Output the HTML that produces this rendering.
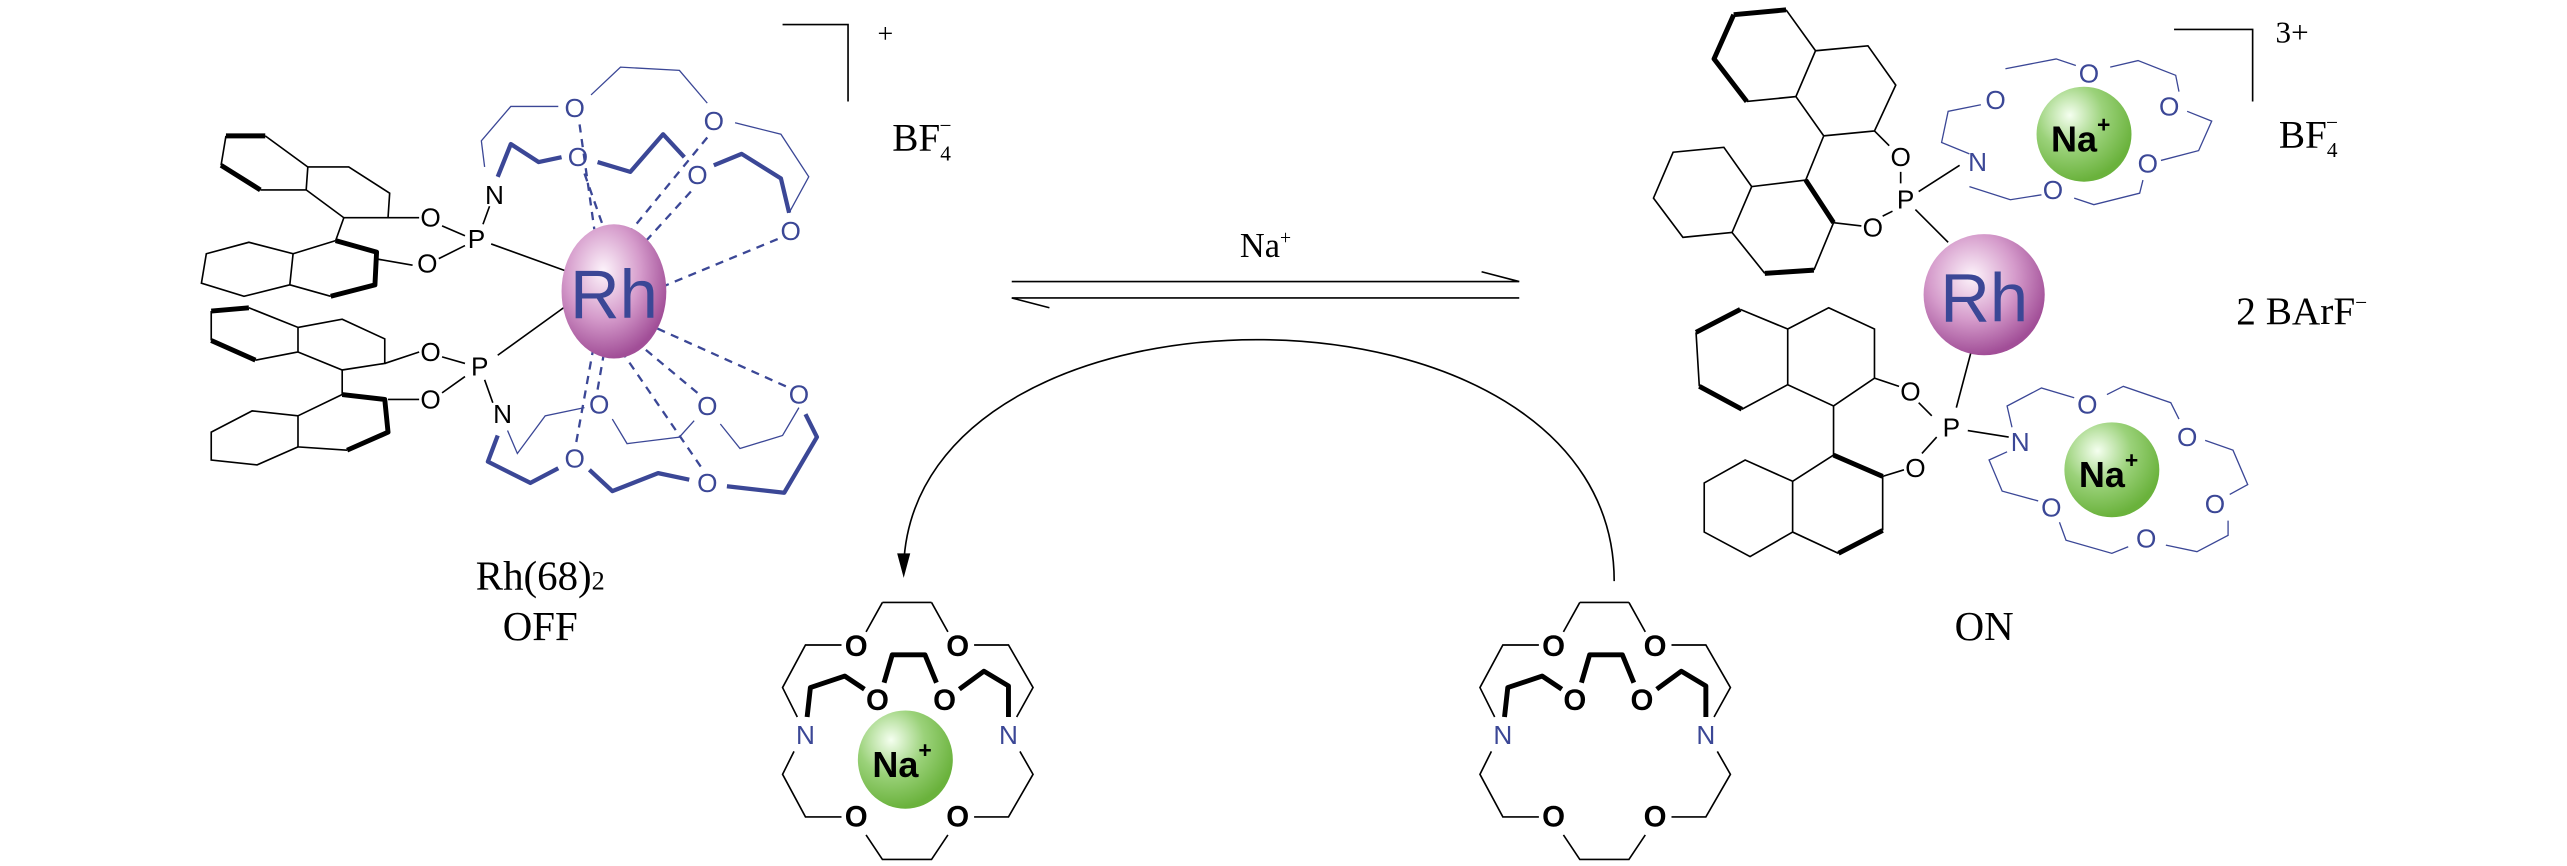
<!DOCTYPE html>
<html><head><meta charset="utf-8"><style>
html,body{margin:0;padding:0;background:#fff;}
svg{display:block}
.t{stroke:#000;stroke-width:1;fill:none}
.k{stroke:#000;stroke-width:3;fill:none;stroke-linejoin:round}
.b{stroke:#3b4796;stroke-width:0.8;fill:none}
.bk{stroke:#3b4796;stroke-width:2.6;fill:none;stroke-linejoin:round}
.d{stroke:#3b4796;stroke-width:1.4;fill:none;stroke-dasharray:5,4}
.ob{font-family:"Liberation Sans",sans-serif;font-size:16px;fill:#3b4796;text-anchor:middle;dominant-baseline:central}
.o{font-family:"Liberation Sans",sans-serif;font-size:16px;fill:#000;text-anchor:middle;dominant-baseline:central}
.ok{font-family:"Liberation Sans",sans-serif;font-size:18px;font-weight:bold;fill:#000;text-anchor:middle;dominant-baseline:central}
.s{font-family:"Liberation Serif",serif;fill:#000}
</style></head><body>
<svg width="2567" height="866" viewBox="0 0 1568 529" xmlns="http://www.w3.org/2000/svg">
<defs>
<radialGradient id="pg" cx="0.4" cy="0.35" r="0.65"><stop offset="0" stop-color="#fdf4fb"/><stop offset="0.55" stop-color="#d59bcb"/><stop offset="1" stop-color="#a14e97"/></radialGradient>
<radialGradient id="gg" cx="0.35" cy="0.3" r="0.7"><stop offset="0" stop-color="#f5fff0"/><stop offset="0.5" stop-color="#9bd27a"/><stop offset="1" stop-color="#6ab23c"/></radialGradient>
</defs>

<path class="t" d="M478 15H518V62"/>
<text class="s" x="536" y="26" font-size="17">+</text>
<text class="s" x="545" y="92" font-size="24">BF<tspan font-size="13" dy="6">4</tspan><tspan font-size="13" dx="-7" dy="-17">−</tspan></text>

<path class="t" d="M162 83L188 102L187 116L159 116M188 102L213 102L238 118L237 133L210 133L187 116"/>
<path class="k" d="M138 83L162 83M135 101L159 116"/>
<path class="t" d="M138 83L135 101"/>
<path class="t" d="M210 133L205 147"/>
<path class="t" d="M123 173L126 155L152 148L179 155L177 174L149 181Z M179 155L205 147M202 181L177 174"/>
<path class="k" d="M205 147L230 154L229 174L202 181"/>
<path class="t" d="M237 133L256 133M229 158L252 162M270 138L284 144M268 158L284 150M300 149L347 166M295 137L299 126"/>
<text class="o" x="263" y="133">O</text><text class="o" x="261" y="161">O</text>
<text class="o" x="291" y="146" font-size="17">P</text><text class="o" x="302" y="119">N</text>

<path class="t" d="M152 188L182 200L182 215L156 220M182 200L209 195L235 207L235 222L209 226L182 215"/>
<path class="k" d="M129 190L152 188M129 208L156 220"/>
<path class="t" d="M129 190L129 208M209 226L209 241"/>
<path class="t" d="M209 241L235 244M182 254L209 241M182 254L182 273L212 275"/>
<path class="k" d="M209 241L235 244L237 264L212 275"/>
<path class="t" d="M182 254L154 251L129 264L129 281L157 284L182 273"/>
<path class="t" d="M235 222L256 215M237 244L256 244M270 218L284 222M270 240L284 230M304 217L347 186M296 232L301 246"/>
<text class="o" x="263" y="215">O</text><text class="o" x="263" y="244">O</text>
<text class="o" x="293" y="224" font-size="17">P</text><text class="o" x="307" y="253">N</text>

<path class="b" d="M296 102L294 86L312 65L341 65M361 58L379 41L415 43L432 63M449 75L477 82L494 108L482 130"/>
<path class="bk" d="M304 108L312 88L329 99L343 96M365 99L385 105L405 82L418 96M436 101L453 94L477 109L482 130"/>
<text class="ob" x="351" y="66">O</text><text class="ob" x="353" y="96">O</text>
<text class="ob" x="436" y="74">O</text><text class="ob" x="426" y="107">O</text><text class="ob" x="483" y="141">O</text>
<path class="b" d="M310 263L316 277L333 254L357 249M374 256L383 271L415 267L424 257M440 259L452 274L478 266L488 249"/>
<path class="bk" d="M304 266L298 282L324 295L341 286M360 287L374 300L402 289L421 293M444 297L479 301L499 267L492 253"/>
<text class="ob" x="366" y="247">O</text><text class="ob" x="432" y="248">O</text><text class="ob" x="488" y="241">O</text>
<text class="ob" x="351" y="280">O</text><text class="ob" x="432" y="295">O</text>
<path class="d" d="M354 76L363 140M357 106L369 140M432 84L382 145M422 117L392 150M475 146L405 175M365 238L369 215M352 270L362 215M426 240L390 210M428 285L380 215M480 236L400 200"/>
<ellipse cx="375" cy="178" rx="32" ry="41" fill="url(#pg)"/>
<text x="375" y="180" font-family="Liberation Sans,sans-serif" font-size="42" fill="#3b4796" text-anchor="middle" dominant-baseline="central">Rh</text>

<text class="s" x="330" y="360" font-size="25" text-anchor="middle">Rh(68)<tspan font-size="16">2</tspan></text>
<text class="s" x="330" y="391" font-size="25" text-anchor="middle">OFF</text>

<path class="t" d="M618 172H928L905 166M928 182H618L641 188" stroke-width="1.3"/>
<text class="s" x="773" y="157" font-size="21" text-anchor="middle">Na<tspan font-size="12" dy="-8">+</tspan></text>
<path class="t" d="M986 355C986 160 560 160 552 345"/>
<polygon points="552,353 548,338 556,338" fill="#000"/>

<g id="crownL">
<path class="t" d="M539 368L569 368M539 368L529 386M569 368L579 386M514 394L492 394L478 420L487 438M595 394L616 394L631 420L621 438M485 459L478 473L492 499L514 499M623 459L631 473L616 499L595 499M529 510L539 525L569 525L579 510" stroke-width="1.1"/>
<path class="k" d="M493 438L495 420L516 413L528 421M540 417L545 400L565 400L572 417M586 421L601 410L616 419L616 438"/>
<text class="ok" x="523" y="395">O</text><text class="ok" x="585" y="395">O</text>
<text class="ok" x="536" y="428">O</text><text class="ok" x="577" y="428">O</text>
<text class="ok" x="523" y="499">O</text><text class="ok" x="585" y="499">O</text>
<text class="ob" x="492" y="449" font-size="19">N</text><text class="ob" x="616" y="449" font-size="19">N</text>
</g>
<ellipse cx="553" cy="464" rx="29" ry="30" fill="url(#gg)"/>
<text x="551" y="467" font-family="Liberation Sans,sans-serif" font-size="22" font-weight="bold" text-anchor="middle" dominant-baseline="central">Na<tspan font-size="14" dy="-9">+</tspan></text>
<use href="#crownL" x="426"/>

<path class="t" d="M1328 18H1376V62"/>
<text class="s" x="1390" y="26" font-size="19" font-family="Liberation Sans,sans-serif">3+</text>
<text class="s" x="1392" y="90" font-size="24">BF<tspan font-size="13" dy="6">4</tspan><tspan font-size="13" dx="-7" dy="-17">−</tspan></text>
<text class="s" x="1366" y="198" font-size="24">2 BArF<tspan font-size="13" dy="-9">−</tspan></text>

<path class="k" d="M1059 9L1091 6M1059 9L1047 36L1067 62"/>
<path class="t" d="M1091 6L1109 31L1097 59L1067 62M1109 31L1141 28L1158 52L1145 80L1114 83L1097 59M1114 83L1103 110"/>
<path class="t" d="M1103 110L1070 114L1058 142L1078 167M1108 165L1120 136"/>
<path class="k" d="M1103 110L1120 136M1078 167L1108 165"/>
<path class="t" d="M1070 114L1053 90L1022 93L1010 121L1028 145L1058 142"/>
<path class="t" d="M1145 80L1154 89M1120 136L1137 138M1161 105L1161 112M1150 132L1156 129M1172 117L1197 101M1170 128L1190 148"/>
<text class="o" x="1161" y="96">O</text><text class="o" x="1144" y="139">O</text>
<text class="o" x="1164" y="122" font-size="17">P</text><text class="ob" x="1208" y="99">N</text>
<path class="b" d="M1203 94L1186 87L1190 68L1210 64M1225 42L1256 36L1268 40M1289 41L1306 37L1329 46L1331 56M1336 68L1351 74L1343 92L1320 98M1309 110L1307 118L1279 125L1267 121M1247 119L1228 122L1203 114"/>
<text class="ob" x="1219" y="61">O</text><text class="ob" x="1276" y="45">O</text><text class="ob" x="1325" y="65">O</text>
<text class="ob" x="1312" y="100">O</text><text class="ob" x="1254" y="116">O</text>
<ellipse cx="1273" cy="82" rx="29" ry="29" fill="url(#gg)"/>
<text x="1271" y="85" font-family="Liberation Sans,sans-serif" font-size="22" font-weight="bold" text-anchor="middle" dominant-baseline="central">Na<tspan font-size="14" dy="-9">+</tspan></text>

<path class="t" d="M1204 215L1195 249"/>
<ellipse cx="1212" cy="180" rx="37" ry="37" fill="url(#pg)"/>
<text x="1212" y="182" font-family="Liberation Sans,sans-serif" font-size="42" fill="#3b4796" text-anchor="middle" dominant-baseline="central">Rh</text>

<path class="t" d="M1117 188L1145 201L1145 231L1120 248L1092 235L1092 201Z"/>
<path class="t" d="M1092 201L1063 189M1036 203L1038 236M1064 250L1092 235"/>
<path class="k" d="M1063 189L1036 203M1038 236L1064 250"/>
<path class="t" d="M1120 248L1120 278"/>
<path class="k" d="M1120 278L1150 291M1150 324L1123 338"/>
<path class="t" d="M1150 291L1150 324M1123 338L1095 325L1095 294L1120 278M1095 294L1066 281L1041 295L1041 325L1069 340L1095 325"/>
<path class="t" d="M1145 231L1160 236M1150 291L1163 287M1172 246L1180 254M1174 277L1183 267M1202 263L1227 267"/>
<text class="o" x="1167" y="239">O</text><text class="o" x="1170" y="286">O</text>
<text class="o" x="1192" y="261" font-size="17">P</text><text class="ob" x="1234" y="270">N</text>
<path class="b" d="M1229 261L1226 248L1247 237L1267 243M1287 241L1297 236L1326 246L1331 256M1347 269L1364 275L1373 296L1362 302M1361 318L1361 327L1342 337L1323 333M1300 334L1290 338L1262 330L1258 319M1245 306L1223 300L1215 281L1226 276"/>
<text class="ob" x="1275" y="247">O</text><text class="ob" x="1336" y="267">O</text><text class="ob" x="1353" y="308">O</text>
<text class="ob" x="1311" y="329">O</text><text class="ob" x="1253" y="310">O</text>
<ellipse cx="1290" cy="287" rx="29" ry="29" fill="url(#gg)"/>
<text x="1288" y="290" font-family="Liberation Sans,sans-serif" font-size="22" font-weight="bold" text-anchor="middle" dominant-baseline="central">Na<tspan font-size="14" dy="-9">+</tspan></text>

<text class="s" x="1212" y="391" font-size="25" text-anchor="middle">ON</text>
</svg>
</body></html>
